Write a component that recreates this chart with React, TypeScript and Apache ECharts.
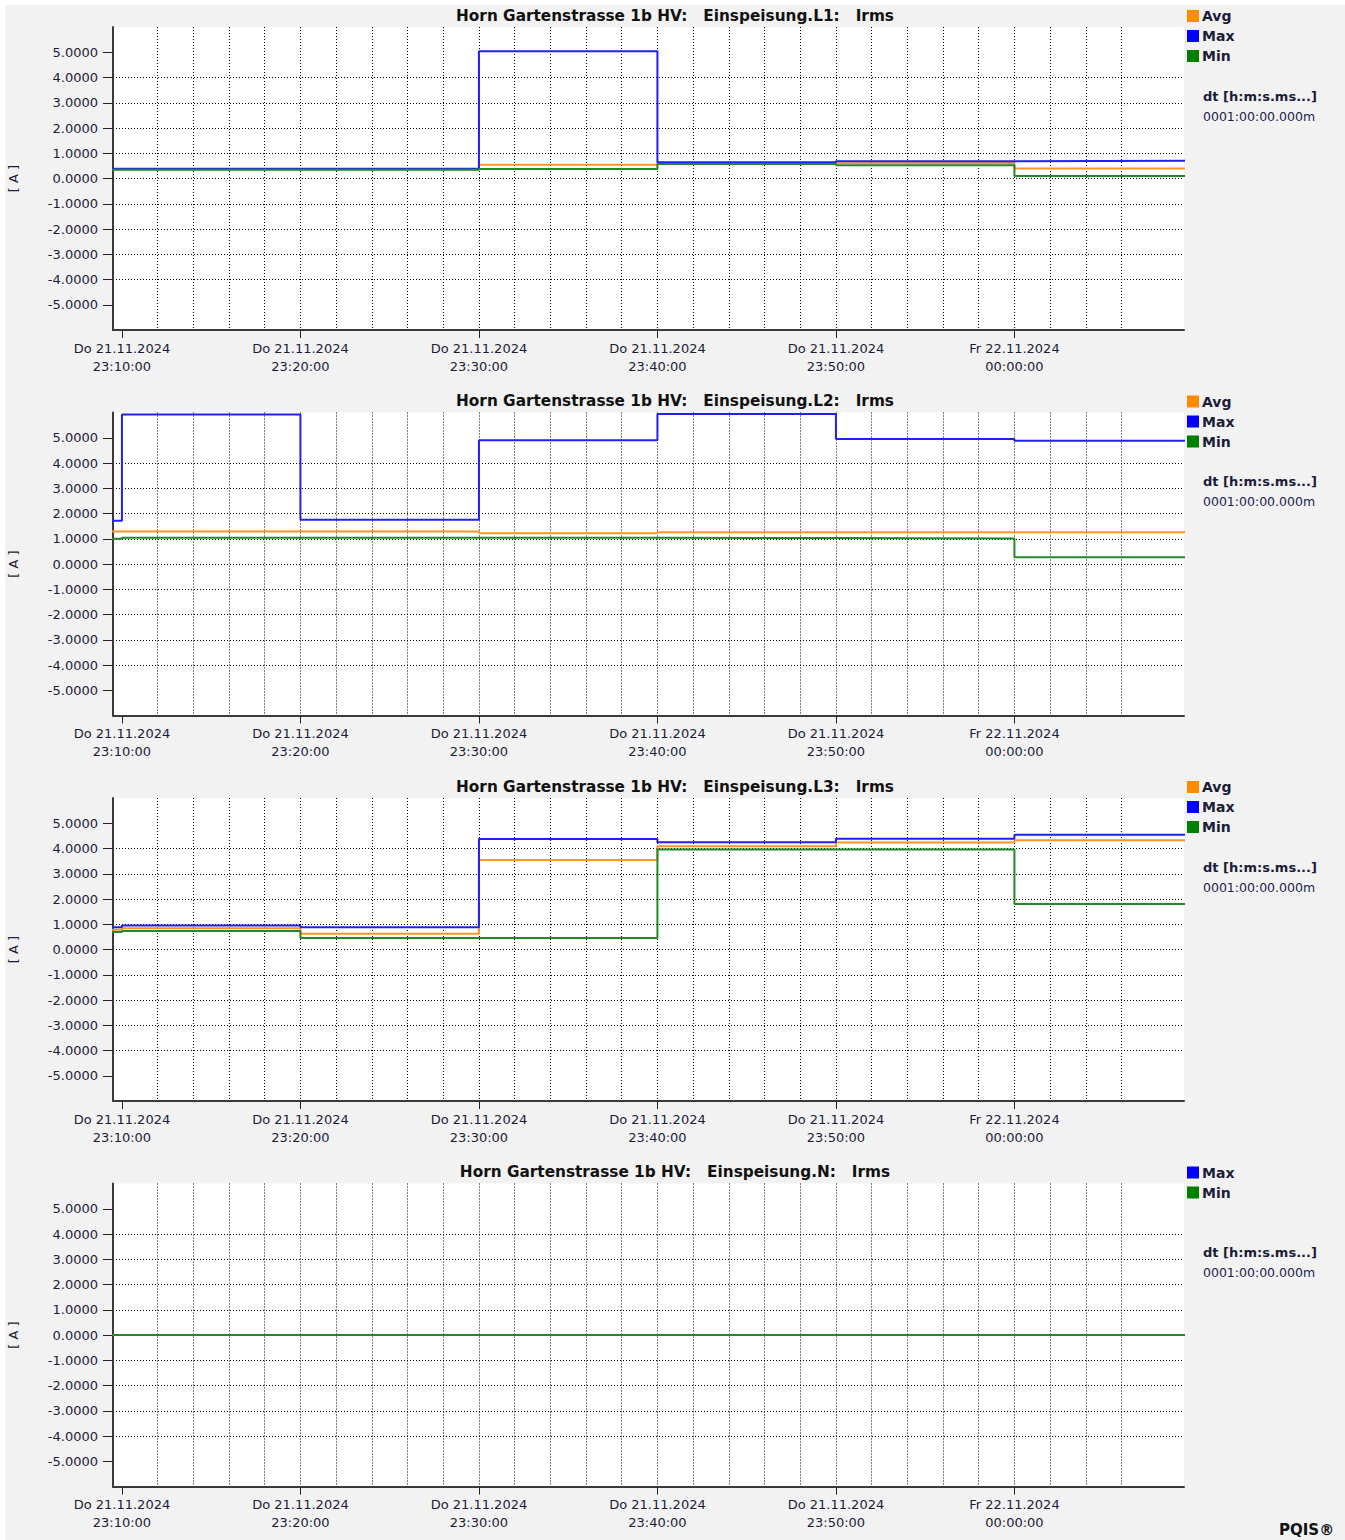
import React, { useEffect, useRef } from 'react';
import * as echarts from 'echarts';

// Interval start timestamps (10-minute aggregates); the last entry closes the final interval
const timestamps = [
  '2024-11-21T23:00:00',
  '2024-11-21T23:10:00',
  '2024-11-21T23:20:00',
  '2024-11-21T23:30:00',
  '2024-11-21T23:40:00',
  '2024-11-21T23:50:00',
  '2024-11-22T00:00:00',
  '2024-11-22T00:10:00',
];

const axisStart = '2024-11-21T23:09:30';
const axisEnd = '2024-11-22T00:09:30';

const xLabelTimes = [
  '2024-11-21T23:10:00',
  '2024-11-21T23:20:00',
  '2024-11-21T23:30:00',
  '2024-11-21T23:40:00',
  '2024-11-21T23:50:00',
  '2024-11-22T00:00:00',
];

const yTicks = [-5, -4, -3, -2, -1, 0, 1, 2, 3, 4, 5];

const l1Avg = [0.37, 0.37, 0.37, 0.54, 0.60, 0.61, 0.40];
const l1Max = [0.39, 0.39, 0.39, 5.04, 0.64, 0.68, 0.70];
const l1Min = [0.35, 0.35, 0.35, 0.38, 0.57, 0.52, 0.10];

const l2Avg = [1.29, 1.29, 1.29, 1.22, 1.26, 1.26, 1.26];
const l2Max = [1.71, 5.92, 1.75, 4.90, 5.94, 4.95, 4.88];
const l2Min = [1.00, 1.04, 1.04, 1.04, 1.03, 1.01, 0.27];

const l3Avg = [0.78, 0.84, 0.62, 3.54, 4.09, 4.24, 4.33];
const l3Max = [0.88, 0.95, 0.88, 4.38, 4.25, 4.39, 4.54];
const l3Min = [0.69, 0.73, 0.46, 0.46, 3.96, 3.96, 1.80];

const nMax = [0, 0, 0, 0, 0, 0, 0];
const nMin = [0, 0, 0, 0, 0, 0, 0];

const panelTitles = [
  'Horn Gartenstrasse 1b HV:   Einspeisung.L1:   Irms',
  'Horn Gartenstrasse 1b HV:   Einspeisung.L2:   Irms',
  'Horn Gartenstrasse 1b HV:   Einspeisung.L3:   Irms',
  'Horn Gartenstrasse 1b HV:   Einspeisung.N:   Irms',
];

type PanelData = { name: string; values: number[] }[];
const panels: PanelData[] = [
  [
    { name: 'Avg', values: l1Avg },
    { name: 'Max', values: l1Max },
    { name: 'Min', values: l1Min },
  ],
  [
    { name: 'Avg', values: l2Avg },
    { name: 'Max', values: l2Max },
    { name: 'Min', values: l2Min },
  ],
  [
    { name: 'Avg', values: l3Avg },
    { name: 'Max', values: l3Max },
    { name: 'Min', values: l3Min },
  ],
  [
    { name: 'Max', values: nMax },
    { name: 'Min', values: nMin },
  ],
];

const seriesColors: Record<string, string> = { Avg: '#ff9428', Max: '#2020f4', Min: '#22882a' };
const legendColors: Record<string, string> = { Avg: '#ff8c00', Max: '#0000ff', Min: '#008000' };

const FONT = 'DejaVu Sans';
const TEXT = '#1c1c38';
const WEEKDAYS = ['So', 'Mo', 'Di', 'Mi', 'Do', 'Fr', 'Sa'];

const toMs = (s: string) => new Date(s).getTime();
const pad = (n: number) => String(n).padStart(2, '0');

function formatTime(v: number) {
  const d = new Date(v);
  return `${WEEKDAYS[d.getDay()]} ${pad(d.getDate())}.${pad(d.getMonth() + 1)}.${d.getFullYear()}\n${pad(
    d.getHours()
  )}:${pad(d.getMinutes())}:${pad(d.getSeconds())}`;
}

function buildOption() {
  const O = 5; // outer white border
  const PANEL_STEP = 385.5;
  const xMin = toMs(axisStart);
  const xMax = toMs(axisEnd);
  const labelTicks = xLabelTimes.map(toMs);
  const gridTicks: number[] = [];
  for (let t = labelTicks[0]; t < xMax; t += 2 * 60 * 1000) gridTicks.push(t);

  const grids: any[] = [];
  const xAxes: any[] = [];
  const yAxes: any[] = [];
  const series: any[] = [];
  const titles: any[] = [];
  const legends: any[] = [];
  const graphics: any[] = [];

  const dotted = { color: '#000', width: 1, type: [1, 2] };

  panels.forEach((panel, k) => {
    const dy = PANEL_STEP * k;
    grids.push({
      left: 113 - O,
      top: 27 - O + dy,
      width: 1071,
      height: 303,
      show: true,
      backgroundColor: '#ffffff',
      borderWidth: 0,
      containLabel: false,
      outerBoundsMode: 'none',
    });
    // labelled axis
    xAxes.push({
      type: 'value',
      gridIndex: k,
      min: xMin,
      max: xMax,
      position: 'bottom',
      axisLine: { show: true, onZero: false, lineStyle: { color: '#3a3a3a', width: 2 } },
      axisTick: { show: true, length: 8, customValues: labelTicks, lineStyle: { color: '#222', width: 1 } },
      axisLabel: {
        show: true,
        customValues: labelTicks,
        formatter: (v: number) => formatTime(v),
        fontFamily: FONT,
        fontSize: 13,
        lineHeight: 18,
        color: TEXT,
        margin: 9,
      },
      splitLine: { show: false },
    });
    // grid-line axis (every 2 minutes)
    xAxes.push({
      type: 'value',
      gridIndex: k,
      min: xMin,
      max: xMax,
      position: 'bottom',
      axisLine: { show: false, onZero: false },
      axisTick: { show: false, customValues: gridTicks },
      axisLabel: { show: false, customValues: gridTicks },
      splitLine: { show: true, showMinLine: false, showMaxLine: false, lineStyle: dotted },
    });
    yAxes.push({
      type: 'value',
      gridIndex: k,
      min: -6,
      max: 6,
      interval: 1,
      name: '[ A ]',
      nameLocation: 'middle',
      nameGap: 93,
      nameRotate: 90,
      nameTextStyle: { fontFamily: FONT, fontSize: 13, color: TEXT },
      axisLine: { show: true, lineStyle: { color: '#3a3a3a', width: 2 } },
      axisTick: { show: true, length: 10, customValues: yTicks, lineStyle: { color: '#222', width: 1 } },
      axisLabel: {
        customValues: yTicks,
        formatter: (v: number) => (Math.abs(v) > 5.5 ? '' : v.toFixed(4)),
        fontFamily: FONT,
        fontSize: 13,
        color: TEXT,
        margin: 15,
      },
      splitLine: { show: true, showMinLine: false, showMaxLine: false, lineStyle: dotted },
    });

    panel.forEach((s) => {
      const data = s.values.map((v, i) => [toMs(timestamps[i]), v]);
      data.push([toMs(timestamps[s.values.length]), s.values[s.values.length - 1]]);
      series.push({
        name: s.name,
        type: 'line',
        xAxisIndex: 2 * k,
        yAxisIndex: k,
        step: 'end',
        symbol: 'none',
        showSymbol: false,
        silent: true,
        color: seriesColors[s.name],
        lineStyle: { color: seriesColors[s.name], width: 2 },
        data,
      });
    });

    titles.push({
      text: panelTitles[k],
      left: 'center',
      top: 8 - O + dy,
      padding: 0,
      textStyle: { fontFamily: FONT, fontSize: 15.3, fontWeight: 'bold', color: '#111' },
    });

    legends.push({
      orient: 'vertical',
      left: 1187 - O,
      top: 9 - O + dy,
      padding: 0,
      itemWidth: 12,
      itemHeight: 12,
      itemGap: 6,
      icon: 'rect',
      selectedMode: false,
      textStyle: { fontFamily: FONT, fontSize: 14, fontWeight: 'bold', color: TEXT, padding: [0, 0, 0, -2] },
      data: panel.map((s) => ({ name: s.name, itemStyle: { color: legendColors[s.name] } })),
    });

    graphics.push({
      type: 'text',
      x: 1203 - O,
      y: 96 - O + dy,
      style: {
        text: 'dt [h:m:s.ms...]',
        fontFamily: FONT,
        fontSize: 13,
        fontWeight: 'bold',
        fill: TEXT,
        verticalAlign: 'middle',
      },
    });
    graphics.push({
      type: 'text',
      x: 1203 - O,
      y: 116 - O + dy,
      style: {
        text: '0001:00:00.000m',
        fontFamily: FONT,
        fontSize: 12.5,
        fill: '#1c1c50',
        verticalAlign: 'middle',
      },
    });
  });

  graphics.push({
    type: 'text',
    x: 1279 - O,
    y: 1530 - O,
    style: {
      text: 'PQIS®',
      fontFamily: FONT,
      fontSize: 15,
      fontWeight: 'bold',
      fill: '#111',
      verticalAlign: 'middle',
    },
  });

  return {
    animation: false,
    backgroundColor: '#f2f2f2',
    title: titles,
    legend: legends,
    grid: grids,
    xAxis: xAxes,
    yAxis: yAxes,
    series,
    graphic: graphics,
  };
}

export default function App() {
  const ref = useRef<HTMLDivElement>(null);
  useEffect(() => {
    if (!ref.current) return;
    const chart = echarts.init(ref.current, null, { renderer: 'svg' });
    chart.setOption(buildOption() as any);
    return () => chart.dispose();
  }, []);
  return (
    <div style={{ position: 'absolute', left: 0, top: 0, width: 1345, height: 1540, background: '#ffffff' }}>
      <div ref={ref} style={{ position: 'absolute', left: 5, top: 5, width: 1340, height: 1535 }} />
    </div>
  );
}
